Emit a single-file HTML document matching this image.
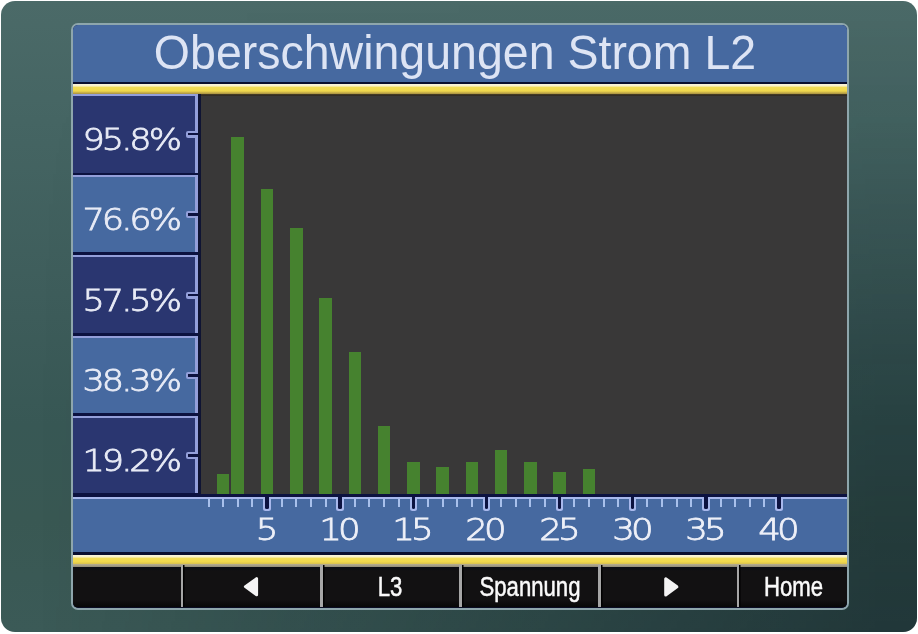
<!DOCTYPE html>
<html><head><meta charset="utf-8"><style>
*{margin:0;padding:0;box-sizing:border-box}
html,body{width:918px;height:634px;overflow:hidden;background:#fff}
body{position:relative;font-family:"Liberation Sans",Arial,sans-serif}
.frame{position:absolute;left:1px;top:1px;width:916px;height:631px;border-radius:14px;overflow:hidden;
 background:linear-gradient(to bottom,#4b6a68 0%,#456563 19%,#3d5c5a 50%,#385855 67%,#395853 82%,#3b5a57 100%)}
.fov{position:absolute;left:0;top:0;width:100%;height:100%;background:linear-gradient(to right,rgba(0,10,18,0) 4%,rgba(0,10,18,1) 96%);
 -webkit-mask-image:linear-gradient(to bottom,rgba(0,0,0,0) 0%,rgba(0,0,0,0.06) 19%,rgba(0,0,0,0.21) 50%,rgba(0,0,0,0.37) 82%,rgba(0,0,0,0.43) 100%)}
.screen{position:absolute;left:71px;top:23px;width:778px;height:586.6px;border:2px solid #8ea6ac;border-radius:7px;overflow:hidden;background:#0c1240}
.a{position:absolute}
.clip{position:absolute;left:0;top:0;width:918px;height:634px;clip-path:inset(25px 71px 26.4px 73px round 5px)}
.title{left:73px;top:25px;width:774px;height:56.5px;background:#4669a0}
.ttext{left:73px;top:25px;width:774px;height:56px;line-height:56px;text-align:center;color:#dde4f4;font-size:46.5px;white-space:nowrap;text-indent:-10px;transform:scaleY(1.045);transform-origin:50% 44.3px}
.dk1{left:73px;top:81.5px;width:774px;height:3px;background:#0a0e2e}
.yel{left:73px;top:84.1px;width:774px;height:10px;background:linear-gradient(#f8f4dc 0%,#f8f0c8 20%,#f2dc58 32%,#f0d84c 70%,#c8b048 86%,#a89040 100%)}
.yel2{left:73px;top:555px;width:774px;height:9px;background:linear-gradient(#f8f4dc 0%,#f8f0c8 22%,#f2dc58 35%,#f0d84c 75%,#d8c050 100%)}
.chart{left:201px;top:94px;width:646px;height:400px;background:#393838}
.ctop{left:197.5px;top:93.6px;width:650px;height:2.8px;background:linear-gradient(#4a4024,#2a2622)}
.cleft{left:197.5px;top:94px;width:3.5px;height:404px;background:#0f1433}
.yb{position:absolute;left:73px;width:124.5px;border-top:2px solid #939fda;border-right:3px solid #939fda}
.bn{background:#2a3670}
.bl{background:#4669a0}
.ytl{position:absolute;left:185.7px;width:12px;height:7px;background:#939fda;border-radius:2px 0 0 2px}
.ytd{position:absolute;left:188px;width:10px;height:2.6px;background:#0c1240}
.yl{position:absolute;left:73px;width:106px;text-align:right;color:#e8ebf6;font-family:"DejaVu Sans","Liberation Sans",sans-serif;font-weight:200;-webkit-text-stroke:0.8px #e8ebf6;font-size:30.5px;line-height:33px;letter-spacing:-2.6px;transform:scaleX(1.15);transform-origin:100% 50%}
.bar{position:absolute;background:#46822f}
.xaxis{left:73px;top:497px;width:774px;height:55px;background:#4669a0;border-top:2.5px solid #a8b8ec}
.xdk{left:73px;top:493.6px;width:774px;height:3.5px;background:#0c1240}
.tm{position:absolute;top:499px;width:2px;height:7.5px;background:#a8c0ec}
.tMl{position:absolute;top:497px;width:7.4px;height:14.3px;background:#a8b8ec;border-radius:0 0 2.5px 2.5px}
.tMd{position:absolute;top:494px;width:3.4px;height:14.5px;background:#0c1240;border-radius:0 0 1.5px 1.5px}
.xl{position:absolute;top:512px;width:60px;text-align:center;color:#eef0f8;font-family:"DejaVu Sans","Liberation Sans",sans-serif;font-weight:200;-webkit-text-stroke:0.8px #eef0f8;font-size:31px;line-height:34px;letter-spacing:-3.4px;text-indent:-3.4px;transform:scaleX(1.15);transform-origin:50% 50%}
.xdk2{left:73px;top:552px;width:774px;height:3.5px;background:#0a0e2e}
.bgap{left:73px;top:564px;width:774px;height:3px;background:linear-gradient(#b8b090,#908a78)}
.btns{left:73px;top:567px;width:774px;height:42px;background:linear-gradient(#0a0c14 0px,#121112 4px,#121112 33px,#080808 40px)}
.sep{position:absolute;top:565px;width:2.4px;height:42px;background:#a6a6a6;box-shadow:1.5px 0 0 #000}
.bt{position:absolute;top:573px;height:28px;line-height:28px;text-align:center;color:#fafafa;font-size:27px;white-space:nowrap;transform:scaleX(0.82);-webkit-text-stroke:0.5px #fafafa}
</style></head><body>
<div class="frame"><div class="fov"></div></div>
<div class="screen"></div>
<div class="clip">
<div class="a title"></div>
<div class="a ttext">Oberschwingungen Strom L2</div>
<div class="a dk1"></div>
<div class="a yel"></div>
<div class="a chart"></div>
<div class="a ctop"></div>
<div class="a cleft"></div>
<div class="yb bn" style="top:94px;height:78.5px"></div><div class="ytl" style="top:130.8px"></div><div class="ytd" style="top:132.9px"></div><div class="yl" style="top:122.8px">95.8%</div><div class="yb bl" style="top:175px;height:77.3px"></div><div class="ytl" style="top:211.2px"></div><div class="ytd" style="top:213.3px"></div><div class="yl" style="top:203.2px">76.6%</div><div class="yb bn" style="top:255.3px;height:77.7px"></div><div class="ytl" style="top:291.6px"></div><div class="ytd" style="top:293.8px"></div><div class="yl" style="top:283.6px">57.5%</div><div class="yb bl" style="top:335.6px;height:77.7px"></div><div class="ytl" style="top:372.0px"></div><div class="ytd" style="top:374.2px"></div><div class="yl" style="top:364.0px">38.3%</div><div class="yb bn" style="top:415.8px;height:77.7px"></div><div class="ytl" style="top:452.1px"></div><div class="ytd" style="top:454.3px"></div><div class="yl" style="top:444.1px">19.2%</div>
<div class="bar" style="left:216.83px;width:12.6px;top:474.4px;height:19.3px"></div><div class="bar" style="left:231.46px;width:12.6px;top:137.0px;height:356.7px"></div><div class="bar" style="left:260.72px;width:12.6px;top:189.0px;height:304.7px"></div><div class="bar" style="left:289.98px;width:12.6px;top:227.6px;height:266.1px"></div><div class="bar" style="left:319.24px;width:12.6px;top:297.7px;height:196.0px"></div><div class="bar" style="left:348.50px;width:12.6px;top:352.0px;height:141.7px"></div><div class="bar" style="left:377.76px;width:12.6px;top:425.7px;height:68.0px"></div><div class="bar" style="left:407.02px;width:12.6px;top:461.9px;height:31.8px"></div><div class="bar" style="left:436.28px;width:12.6px;top:466.6px;height:27.1px"></div><div class="bar" style="left:465.54px;width:12.6px;top:461.9px;height:31.8px"></div><div class="bar" style="left:494.80px;width:12.6px;top:449.6px;height:44.1px"></div><div class="bar" style="left:524.06px;width:12.6px;top:461.9px;height:31.8px"></div><div class="bar" style="left:553.32px;width:12.6px;top:471.8px;height:21.9px"></div><div class="bar" style="left:582.58px;width:12.6px;top:469.2px;height:24.5px"></div>
<div class="a xdk"></div>
<div class="a xaxis"></div>
<div class="tm" style="left:207.50px"></div><div class="tm" style="left:222.13px"></div><div class="tm" style="left:236.76px"></div><div class="tm" style="left:251.39px"></div><div class="tMl" style="left:263.32px"></div><div class="tMd" style="left:265.32px"></div><div class="xl" style="left:237.02px">5</div><div class="tm" style="left:280.65px"></div><div class="tm" style="left:295.28px"></div><div class="tm" style="left:309.91px"></div><div class="tm" style="left:324.54px"></div><div class="tMl" style="left:336.47px"></div><div class="tMd" style="left:338.47px"></div><div class="xl" style="left:310.17px">10</div><div class="tm" style="left:353.80px"></div><div class="tm" style="left:368.43px"></div><div class="tm" style="left:383.06px"></div><div class="tm" style="left:397.69px"></div><div class="tMl" style="left:409.62px"></div><div class="tMd" style="left:411.62px"></div><div class="xl" style="left:383.32px">15</div><div class="tm" style="left:426.95px"></div><div class="tm" style="left:441.58px"></div><div class="tm" style="left:456.21px"></div><div class="tm" style="left:470.84px"></div><div class="tMl" style="left:482.77px"></div><div class="tMd" style="left:484.77px"></div><div class="xl" style="left:456.47px">20</div><div class="tm" style="left:500.10px"></div><div class="tm" style="left:514.73px"></div><div class="tm" style="left:529.36px"></div><div class="tm" style="left:543.99px"></div><div class="tMl" style="left:555.92px"></div><div class="tMd" style="left:557.92px"></div><div class="xl" style="left:529.62px">25</div><div class="tm" style="left:573.25px"></div><div class="tm" style="left:587.88px"></div><div class="tm" style="left:602.51px"></div><div class="tm" style="left:617.14px"></div><div class="tMl" style="left:629.07px"></div><div class="tMd" style="left:631.07px"></div><div class="xl" style="left:602.77px">30</div><div class="tm" style="left:646.40px"></div><div class="tm" style="left:661.03px"></div><div class="tm" style="left:675.66px"></div><div class="tm" style="left:690.29px"></div><div class="tMl" style="left:702.22px"></div><div class="tMd" style="left:704.22px"></div><div class="xl" style="left:675.92px">35</div><div class="tm" style="left:719.55px"></div><div class="tm" style="left:734.18px"></div><div class="tm" style="left:748.81px"></div><div class="tm" style="left:763.44px"></div><div class="tMl" style="left:775.37px"></div><div class="tMd" style="left:777.37px"></div><div class="xl" style="left:749.07px">40</div>
<div class="a xdk2"></div>
<div class="a yel2"></div>
<div class="a bgap"></div>
<div class="a btns"></div>
<div class="sep" style="left:181px"></div>
<div class="sep" style="left:320.2px"></div>
<div class="sep" style="left:459.2px"></div>
<div class="sep" style="left:598.2px"></div>
<div class="sep" style="left:737px"></div>
</div>
<svg class="a" style="left:0;top:0" width="918" height="634">
<path d="M256.6 578.6 L256.6 594.8 L245.4 586.6 Z" fill="#f4f4f4" stroke="#f4f4f4" stroke-width="3" stroke-linejoin="round"/>
<path d="M665.7 578.8 L665.7 595 L676.9 586.8 Z" fill="#f4f4f4" stroke="#f4f4f4" stroke-width="3" stroke-linejoin="round"/>
</svg>
<div class="bt" style="left:320.5px;width:138px">L3</div>
<div class="bt" style="left:461px;width:138px">Spannung</div>
<div class="bt" style="left:740px;width:107px">Home</div>
</body></html>
